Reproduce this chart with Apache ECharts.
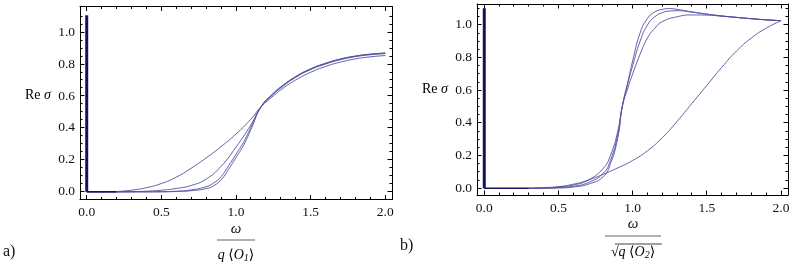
<!DOCTYPE html>
<html><head><meta charset="utf-8">
<script src="https://cdn.jsdelivr.net/npm/echarts@6/dist/echarts.min.js"></script>
<style>html,body{margin:0;padding:0;background:#fff}#c{width:795px;height:267px}</style>
</head><body><div id="c"></div>
<script>
// ---- tick labels ----
const xMajor = [0, 0.5, 1.0, 1.5, 2.0];
const xMinor = [0.1,0.2,0.3,0.4,0.6,0.7,0.8,0.9,1.1,1.2,1.3,1.4,1.6,1.7,1.8,1.9];
const yMajor = [0, 0.2, 0.4, 0.6, 0.8, 1.0];
const yMinor = [0.05,0.1,0.15,0.25,0.3,0.35,0.45,0.5,0.55,0.65,0.7,0.75,0.85,0.9,0.95,1.05,1.1];

// ---- panel a) data  [omega, Re sigma] ----
const aSpike = [[0,0],[0,1.105]];
const aBase  = [[0,0],[0.2,0]];
const a1 = [[0.2,0.002],[0.3,0.01],[0.4,0.026],[0.5,0.052],[0.6,0.092],[0.7,0.148],[0.8,0.212],[0.9,0.283],[1.0,0.362],[1.1,0.455],[1.17,0.535],[1.25,0.6],[1.3,0.638],[1.4,0.7],[1.5,0.748],[1.6,0.785],[1.7,0.812],[1.8,0.832],[1.9,0.845],[2.0,0.853]];
const a2 = [[0.2,0],[0.3,0.001],[0.4,0.004],[0.5,0.01],[0.6,0.021],[0.7,0.04],[0.8,0.08],[0.9,0.16],[1.0,0.28],[1.1,0.42],[1.17,0.535],[1.25,0.61],[1.3,0.65],[1.4,0.716],[1.5,0.765],[1.6,0.8],[1.7,0.827],[1.8,0.846],[1.9,0.858],[2.0,0.865]];
const a3 = [[0.2,0],[0.4,0],[0.5,0.001],[0.6,0.004],[0.7,0.012],[0.8,0.032],[0.85,0.055],[0.9,0.095],[0.95,0.163],[1.0,0.235],[1.05,0.31],[1.1,0.405],[1.17,0.535],[1.25,0.615],[1.3,0.655],[1.4,0.72],[1.5,0.768],[1.6,0.803],[1.7,0.83],[1.8,0.849],[1.9,0.861],[2.0,0.868]];
const a4 = [[0.2,0],[0.4,0],[0.5,0],[0.6,0.002],[0.7,0.007],[0.8,0.02],[0.85,0.038],[0.9,0.075],[0.95,0.14],[1.0,0.215],[1.05,0.29],[1.1,0.39],[1.17,0.535],[1.25,0.617],[1.3,0.657],[1.4,0.722],[1.5,0.77],[1.6,0.805],[1.7,0.832],[1.8,0.85],[1.9,0.862],[2.0,0.869]];

// ---- panel b) data ----
const bSpike = [[0,0],[0,1.102]];
const bBase  = [[0,0],[0.3,0]];
const b1 = [[0.3,0],[0.4,0.001],[0.5,0.002],[0.6,0.008],[0.7,0.025],[0.8,0.07],[0.85,0.15],[0.9,0.31],[0.93,0.5],[0.97,0.66],[1.0,0.78],[1.05,0.95],[1.1,1.04],[1.15,1.08],[1.2,1.095],[1.25,1.1],[1.3,1.095],[1.4,1.08],[1.5,1.066],[1.6,1.055],[1.7,1.046],[1.8,1.038],[1.9,1.031],[2.0,1.026]];
const b2 = [[0.3,0],[0.4,0.001],[0.5,0.004],[0.6,0.012],[0.7,0.035],[0.8,0.09],[0.85,0.17],[0.9,0.33],[0.93,0.5],[0.97,0.65],[1.0,0.75],[1.05,0.9],[1.1,1.0],[1.15,1.05],[1.2,1.075],[1.25,1.085],[1.3,1.087],[1.4,1.078],[1.5,1.066],[1.6,1.055],[1.7,1.046],[1.8,1.038],[1.9,1.031],[2.0,1.026]];
const b3 = [[0.3,0],[0.4,0.002],[0.5,0.008],[0.6,0.02],[0.7,0.05],[0.8,0.12],[0.85,0.2],[0.9,0.35],[0.93,0.5],[0.97,0.62],[1.0,0.7],[1.05,0.82],[1.1,0.92],[1.15,0.98],[1.2,1.02],[1.3,1.05],[1.4,1.061],[1.5,1.06],[1.6,1.053],[1.7,1.046],[1.8,1.038],[1.9,1.031],[2.0,1.026]];
const b4 = [[0.3,0.001],[0.4,0.004],[0.5,0.01],[0.6,0.025],[0.7,0.05],[0.8,0.085],[0.9,0.125],[1.0,0.17],[1.1,0.23],[1.2,0.31],[1.3,0.41],[1.4,0.52],[1.5,0.63],[1.6,0.74],[1.7,0.84],[1.8,0.92],[1.9,0.98],[2.0,1.026]];

const SERIF = "'Liberation Serif', 'DejaVu Serif', serif";
const LINE = '#4f4f9e';
const DARK = '#12125e';
const RANGES = [
  {x:[-0.045, 2.045], y:[-0.048, 1.160]},
  {x:[-0.049, 2.047], y:[-0.041, 1.128]}
];
const GRIDS = [
  {left:80, top:6.5, width:312, height:193, show:false},
  {left:477, top:4, width:311, height:191, show:false}
];

function xAxes(g) {
  const r = RANGES[g].x;
  const base = {type:'value', gridIndex:g, min:r[0], max:r[1], splitLine:{show:false},
    axisLine:{show:true, onZero:false, lineStyle:{color:'#000', width:1}}, axisTick:{show:false}};
  return [
    Object.assign({}, base, {position:'bottom', axisLabel:{show:true, customValues:xMajor, formatter:v=>v.toFixed(1), fontFamily:SERIF, fontSize:13.5, color:'#111', margin:6}}),
    Object.assign({}, base, {position:'top', axisLabel:{show:false}})
  ];
}
function yAxes(g) {
  const r = RANGES[g].y;
  const base = {type:'value', gridIndex:g, min:r[0], max:r[1], splitLine:{show:false},
    axisLine:{show:true, onZero:false, lineStyle:{color:'#000', width:1}}, axisTick:{show:false}};
  return [
    Object.assign({}, base, {position:'left', axisLabel:{show:true, customValues:yMajor, formatter:v=>v.toFixed(1), fontFamily:SERIF, fontSize:13.5, color:'#111', margin:5}}),
    Object.assign({}, base, {position:'right', axisLabel:{show:false}})
  ];
}
function line(data, a, color, width) {
  return {type:'line', data:data, xAxisIndex:a, yAxisIndex:a, showSymbol:false, symbol:'none',
    smooth:0.5, lineStyle:{color:color, width:width}, silent:true, animation:false, clip:true};
}

const chart = echarts.init(document.getElementById('c'), null, {renderer:'canvas'});
const rich = {
  r:{fontFamily:SERIF, fontSize:14, color:'#111'},
  i:{fontFamily:SERIF, fontSize:14, fontStyle:'italic', color:'#111'},
  n:{fontFamily:SERIF, fontSize:14, color:'#111'},
  s:{fontFamily:SERIF, fontSize:10, fontStyle:'italic', color:'#111', padding:[7,0,0,0]}
};
const texts = [
  {type:'text', left:25, top:88, style:{text:'{r|Re}{n| }{i|σ}', rich:rich}},
  {type:'text', left:422, top:82, style:{text:'{r|Re}{n| }{i|σ}', rich:rich}},
  {type:'text', x:236, y:229, style:{text:'ω', fontFamily:SERIF, fontStyle:'italic', fontSize:15, fill:'#111', align:'center', verticalAlign:'middle'}},
  {type:'line', shape:{x1:217, y1:240, x2:255, y2:240}, style:{stroke:'#999', lineWidth:1.6}},
  {type:'text', x:236, y:255, style:{text:'{i|q}{n| ⟨}{i|O}{s|1}{n|⟩}', rich:rich, align:'center', verticalAlign:'middle'}},
  {type:'text', x:633, y:224, style:{text:'ω', fontFamily:SERIF, fontStyle:'italic', fontSize:15, fill:'#111', align:'center', verticalAlign:'middle'}},
  {type:'line', shape:{x1:605, y1:236, x2:661, y2:236}, style:{stroke:'#999', lineWidth:1.6}},
  {type:'text', x:633, y:252, style:{text:'{n|√}{i|q}{n| ⟨}{i|O}{s|2}{n|⟩}', rich:rich, align:'center', verticalAlign:'middle'}},
  {type:'line', shape:{x1:615, y1:244, x2:662, y2:244}, style:{stroke:'#111', lineWidth:0.8}},
  {type:'text', left:3, top:244, style:{text:'a)', fontFamily:SERIF, fontSize:16, fill:'#111'}},
  {type:'text', left:400, top:238, style:{text:'b)', fontFamily:SERIF, fontSize:16, fill:'#111'}}
];

chart.setOption({
  animation:false,
  backgroundColor:'#fff',
  grid: GRIDS,
  xAxis: xAxes(0).concat(xAxes(1)),
  yAxis: yAxes(0).concat(yAxes(1)),
  series:[
    line(a1,0,LINE,0.9), line(a2,0,LINE,0.9), line(a3,0,LINE,0.9), line(a4,0,LINE,0.9),
    line(aBase,0,DARK,1.6), line(aSpike,0,DARK,3),
    line(b1,2,LINE,0.9), line(b2,2,LINE,0.9), line(b3,2,LINE,0.9), line(b4,2,LINE,0.9),
    line(bBase,2,DARK,1.6), line(bSpike,2,DARK,3)
  ],
  graphic: texts
});

// Inward frame ticks on all four sides, positioned through each panel's own scales.
const ticks = [];
function tk(x1, y1, x2, y2) {
  ticks.push({type:'line', silent:true, z:10, shape:{x1:x1, y1:y1, x2:x2, y2:y2}, style:{stroke:'#000', lineWidth:1}});
}
[0, 6].forEach(function (sIdx, g) {
  const r = RANGES[g], G = GRIDS[g];
  function toPx(x, y) {
    let p = null;
    try { p = chart.convertToPixel({seriesIndex:sIdx}, [x, y]); } catch (e) { p = null; }
    if (!p || !isFinite(p[0]) || !isFinite(p[1])) {
      p = [G.left + (x - r.x[0]) / (r.x[1] - r.x[0]) * G.width,
           G.top + G.height - (y - r.y[0]) / (r.y[1] - r.y[0]) * G.height];
    }
    return p;
  }
  const lb = toPx(r.x[0], r.y[0]), rt = toPx(r.x[1], r.y[1]);
  const left = lb[0], bottom = lb[1], right = rt[0], top = rt[1];
  const snap = v => Math.round(v - 0.5) + 0.5;
  xMajor.forEach(v => { const p = snap(toPx(v, 0)[0]); tk(p, bottom, p, bottom - 4.5); tk(p, top, p, top + 4.5); });
  xMinor.forEach(v => { const p = snap(toPx(v, 0)[0]); tk(p, bottom, p, bottom - 2.5); tk(p, top, p, top + 2.5); });
  yMajor.forEach(v => { const p = snap(toPx(0, v)[1]); tk(left, p, left + 4.5, p); tk(right, p, right - 4.5, p); });
  yMinor.filter(v => v < r.y[1]).forEach(v => { const p = snap(toPx(0, v)[1]); tk(left, p, left + 2.5, p); tk(right, p, right - 2.5, p); });
});
chart.setOption({graphic: texts.concat(ticks)});
</script></body></html>
